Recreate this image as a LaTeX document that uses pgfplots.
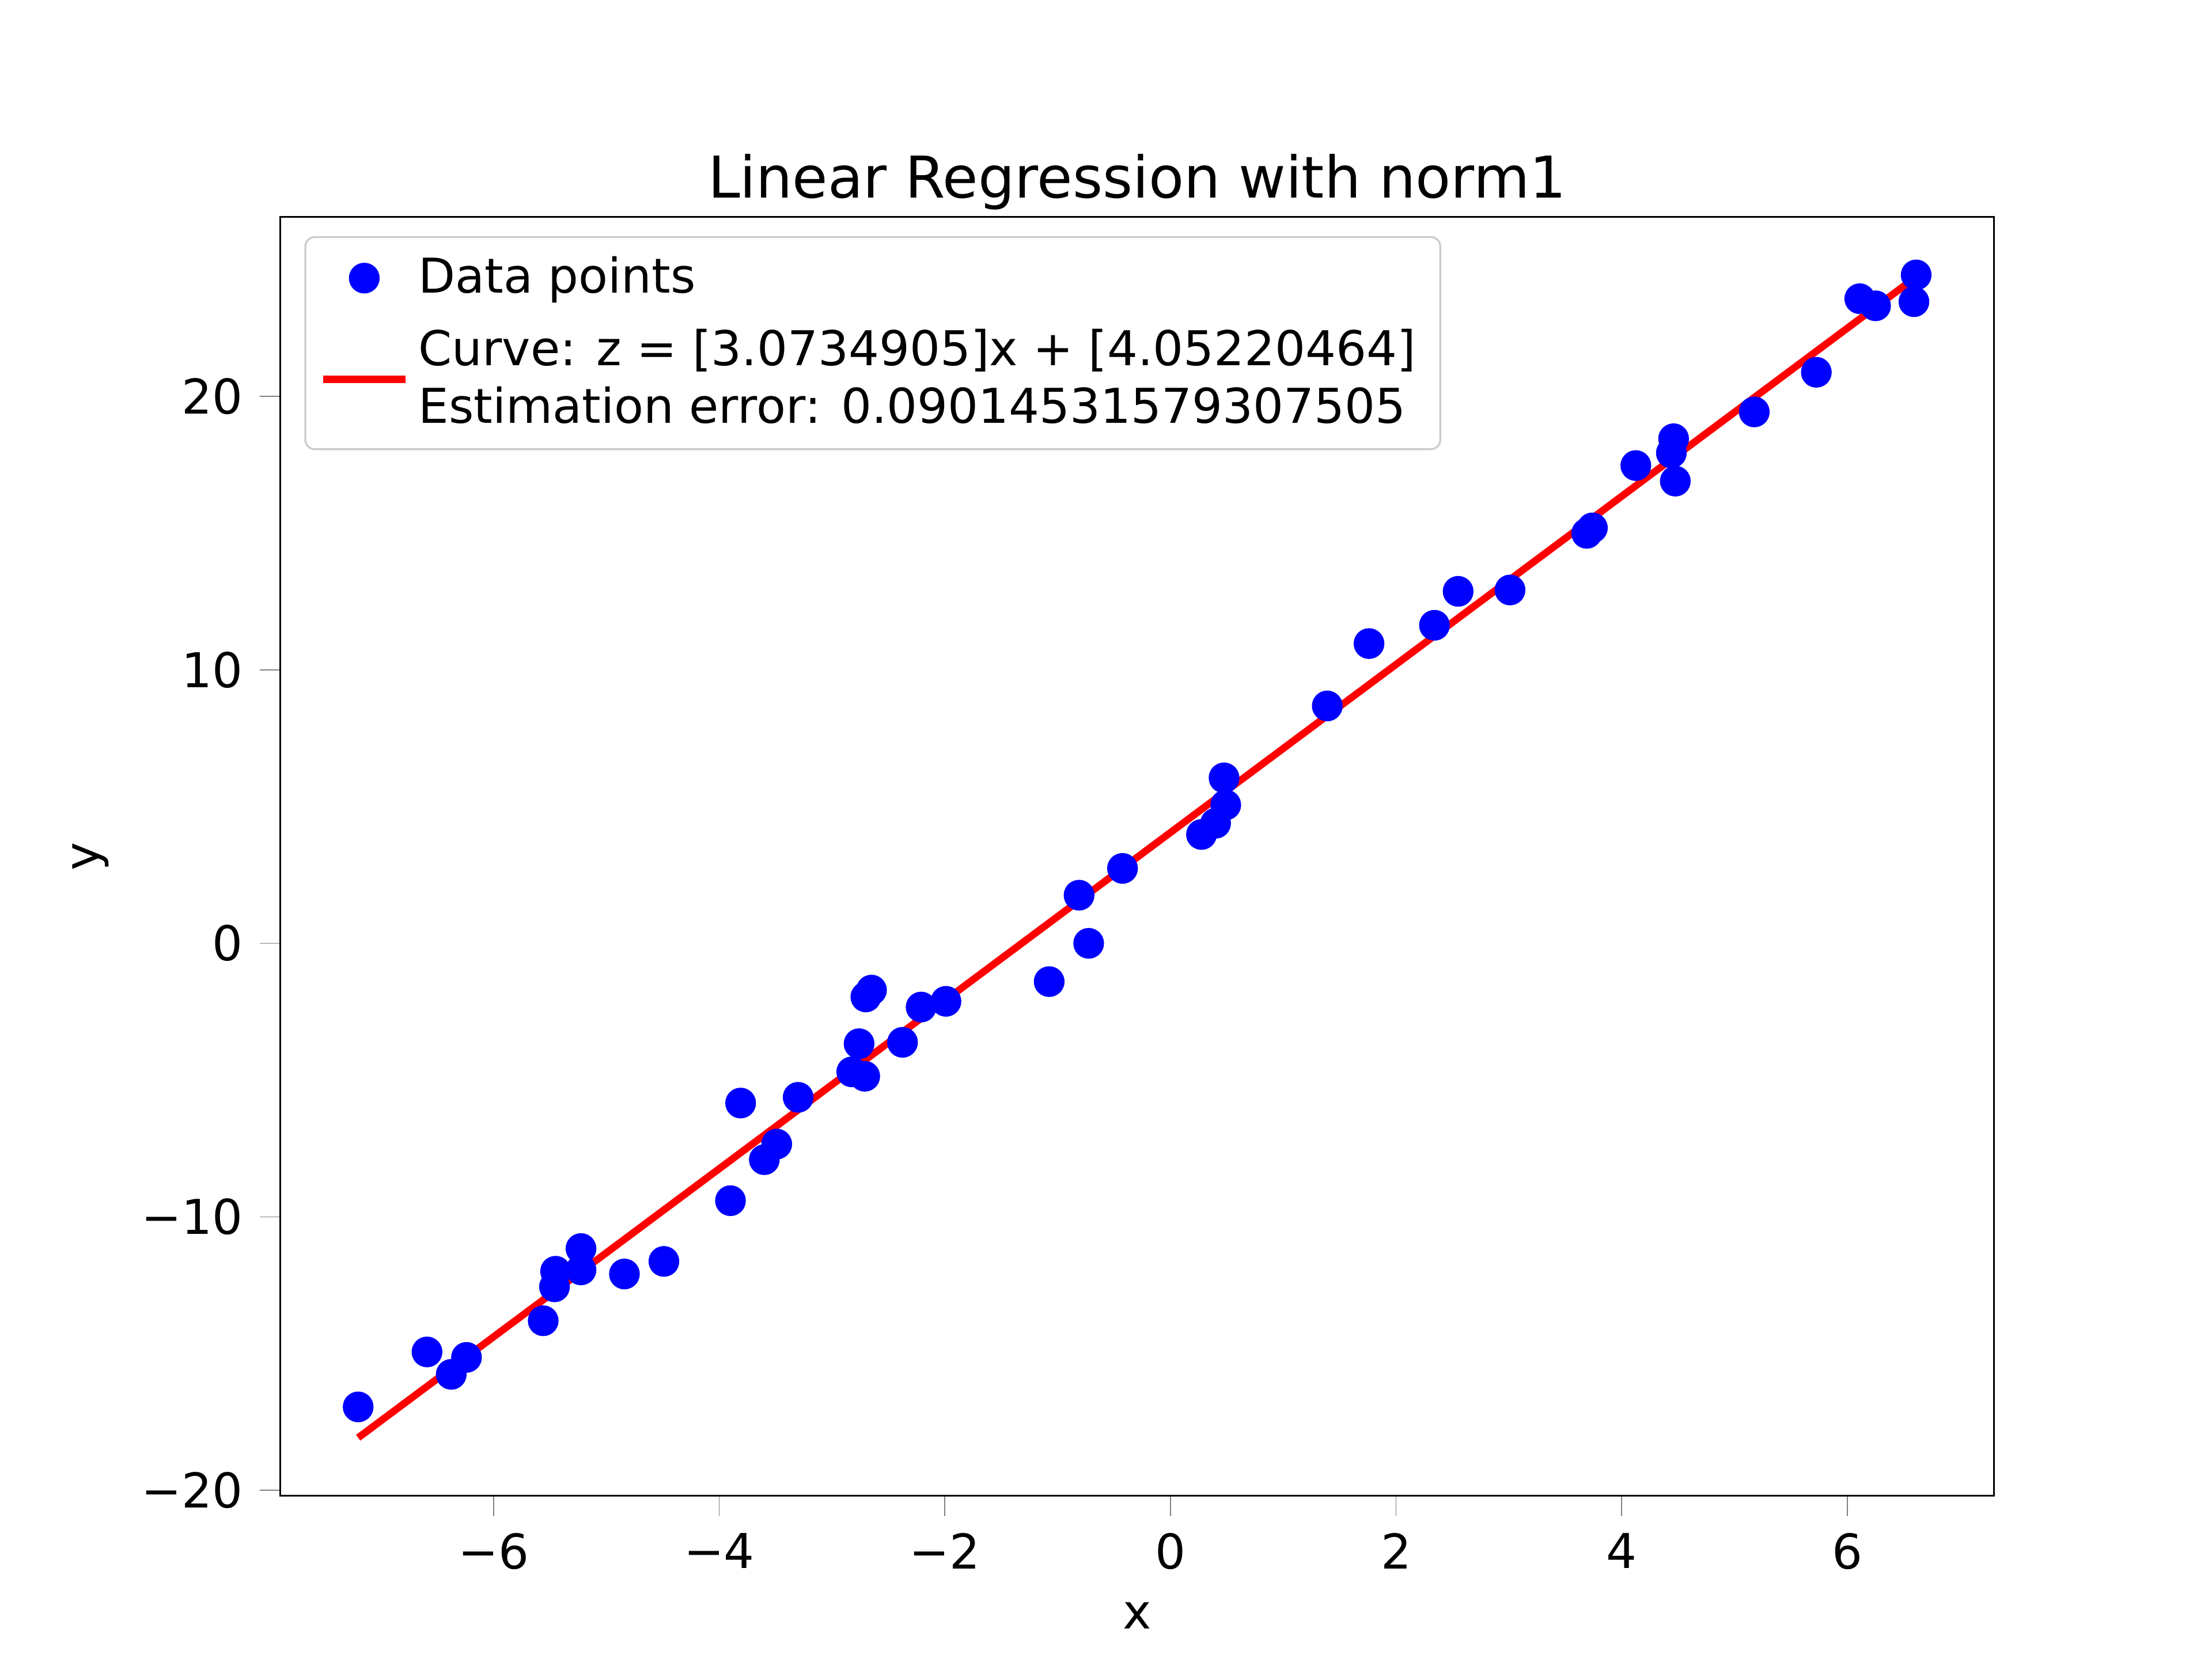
\documentclass[border=0pt]{standalone}
\usepackage{pgfplots}
\pgfplotsset{compat=1.18}
\usepackage{fontspec}
\setmainfont{DejaVu Sans}
\begin{document}
\begin{tikzpicture}
\path[use as bounding box] (-58.4pt,-34pt) rectangle (402.4pt,311.6pt);
\begin{axis}[
  scale only axis, width=357pt, height=266.4pt,
  xmin=-7.89, xmax=7.3, ymin=-20.2, ymax=26.56,
  xtick={-6,-4,-2,0,2,4,6}, xticklabels={−6,−4,−2,0,2,4,6},
  ytick={-20,-10,0,10,20}, yticklabels={−20,−10,0,10,20},
  tick align=outside, tick pos=left,
  ticklabel style={font=\fontsize{10}{12}\selectfont},
  xlabel={x}, ylabel={y},
  label style={font=\fontsize{10}{12}\selectfont},
  title={Linear Regression with norm1},
  title style={font=\fontsize{12}{14}\selectfont, yshift=-8pt},
  legend style={at={(0.014,0.985)}, anchor=north west, draw=gray!40, rounded corners=2pt, font=\fontsize{10}{12}\selectfont, nodes={align=left}, row sep=2pt},
  legend cell align=left,
]
\addplot[only marks, mark=*, mark size=3pt, blue, mark options={draw=blue, fill=blue}] coordinates {
(-7.2,-16.95) (-6.59,-14.94) (-6.375,-15.76) (-6.24,-15.14) (-5.56,-13.8)
(-5.46,-12.56) (-5.45,-11.99) (-5.225,-11.16) (-5.225,-11.94) (-4.84,-12.09)
(-4.49,-11.63) (-3.9,-9.41) (-3.81,-5.84) (-3.6,-7.91) (-3.49,-7.34)
(-3.3,-5.63) (-2.825,-4.70) (-2.76,-3.67) (-2.71,-4.86) (-2.70,-1.96)
(-2.65,-1.71) (-2.375,-3.62) (-2.21,-2.33) (-1.99,-2.12) (-1.075,-1.40)
(-0.81,1.76) (-0.725,0) (-0.425,2.74) (0.275,3.98) (0.4,4.39)
(0.475,6.05) (0.49,5.06) (1.39,8.68) (1.76,10.96) (2.34,11.63)
(2.55,12.87) (3.01,12.92) (3.69,14.99) (3.74,15.19) (4.125,17.47)
(4.44,17.93) (4.46,18.45) (4.475,16.9) (5.175,19.43) (5.725,20.88)
(6.11,23.57) (6.25,23.31) (6.59,23.46) (6.61,24.44)
};
\addlegendentry{Data points}
\addplot[red, line width=1.5pt] coordinates {(-7.2,-18.077) (6.61,24.368)};
\addlegendentry{Curve: z = [3.0734905]x + [4.05220464]\\Estimation error: 0.09014531579307505}
\end{axis}
\end{tikzpicture}
\end{document}
